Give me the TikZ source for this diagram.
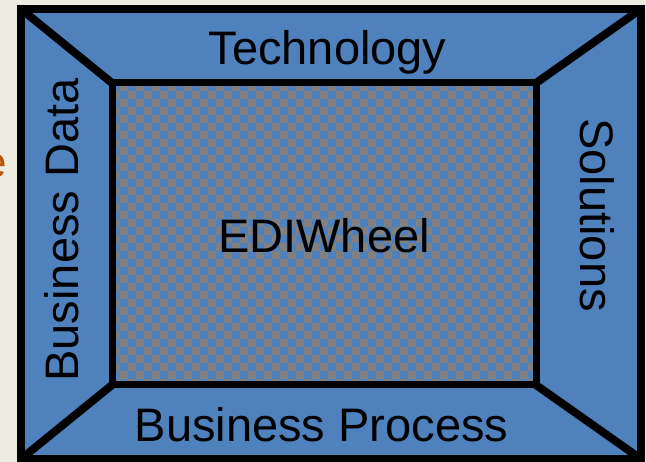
\documentclass[tikz,border=0pt]{standalone}
\usepackage{fontspec}
\setmainfont{Liberation Sans}
\usepackage{xcolor}
\definecolor{slideblue}{HTML}{4F81BD}
\definecolor{slidegray}{HTML}{808080}
\definecolor{slidebg}{HTML}{EEECE1}
\definecolor{slideorange}{HTML}{B65708}

\begin{document}
\begin{tikzpicture}[x=1pt,y=-1pt,
        lbl/.style={font=\fontsize{47}{56}\selectfont, inner sep=0pt},
        frame/.style={line width=8pt, line join=miter}]
        \fill[slidebg] (0,0) rectangle (646,462);
        \useasboundingbox (0,0) rectangle (646,462);
        \coordinate (ol) at (21,9);
        \coordinate (or) at (641,459);
        \coordinate (il) at (112,83);
        \coordinate (ir) at (536,385);
        % partly hidden letter at the left edge
        \node[font=\fontsize{44}{52}\selectfont, text=slideorange, inner sep=0pt, anchor=base east] (cut) at (7,178) {e};
        \fill[slideblue] (ol) rectangle (or);
        % checkered centre
        \begin{scope}
            \clip (il) rectangle (ir);
            \fill[slidegray] (il) rectangle (ir);
            \foreach \i in {0,...,26}
                \foreach \j in {0,...,19}
                {
                    \fill[slideblue] (112+16*\i, 83+16*\j) rectangle ++(8,8);
                    \fill[slideblue] (120+16*\i, 91+16*\j) rectangle ++(8,8);
                }
        \end{scope}
        \draw[frame] (ol) rectangle (or);
        \draw[frame, line width=7pt] (il) rectangle (ir);
        \foreach \a/\b in {21/112, 641/536}
        {
            \draw[frame] (\a,9) -- (\b,83);
        }
        \foreach \a/\b in {21/112, 641/536}
        {
            \draw[frame] (\a,459) -- (\b,385);
        }
        \node[lbl, anchor=base] (tech) at (327.5,65) {Technology};
        \node[lbl, anchor=base] (wheel) at (324,253) {EDIWheel};
        \node[lbl, anchor=base] (proc) at (321.5,442) {Business Process};
        \node[lbl, anchor=base, rotate=90] (data) at (78,230) {Business Data};
        \node[lbl, anchor=base, rotate=-90] (sol) at (580,215) {Solutions};
    \end{tikzpicture}
\end{document}
